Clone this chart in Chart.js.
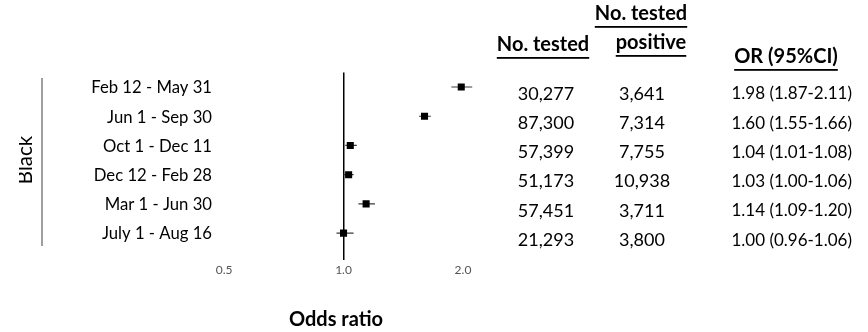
<!DOCTYPE html>
<html>
<head>
<meta charset="utf-8">
<script src="https://cdn.jsdelivr.net/npm/chart.js@4"></script>
<style>
html,body{margin:0;padding:0;background:#fff;}
canvas{display:block;}
</style>
</head>
<body>
<canvas id="c" width="868" height="332"></canvas>
<script>
// ---- data ----
const groupLabel = 'Black';
const periods = ['Feb 12 - May 31','Jun 1 - Sep 30','Oct 1 - Dec 11','Dec 12 - Feb 28','Mar 1 - Jun 30','July 1 - Aug 16'];
const orValues = [1.98, 1.60, 1.04, 1.03, 1.14, 1.00];
const ciLow    = [1.87, 1.55, 1.01, 1.00, 1.09, 0.96];
const ciHigh   = [2.11, 1.66, 1.08, 1.06, 1.20, 1.06];
const nTested   = ['30,277','87,300','57,399','51,173','57,451','21,293'];
const nPositive = ['3,641','7,314','7,755','10,938','3,711','3,800'];
const xTickValues = [0.5, 1, 2];
const xTickLabels = ['0.5','1.0','2.0'];
const xTitle = 'Odds ratio';
const headers = {tested:'No. tested', positiveTop:'No. tested', positiveBottom:'positive', or:'OR (95%CI)'};

const FONT = 'Lato';
const rowIndex = periods.map((_, i) => i + 1);

const whiskerSets = rowIndex.map((r, i) => ({
  type: 'line',
  data: [{x: ciLow[i], y: r}, {x: ciHigh[i], y: r}],
  borderColor: '#3a3a3a',
  borderWidth: 1.2,
  pointRadius: 0,
  order: 2
}));

const tablePlugin = {
  id: 'tablePlugin',
  afterDraw(chart) {
    const ctx = chart.ctx;
    const y = chart.scales.y;
    ctx.save();
    // group label, rotated and clipped
    ctx.save();
    ctx.beginPath();
    ctx.rect(19, 0, 60, 332);
    ctx.clip();
    ctx.translate(32, 160);
    ctx.rotate(-Math.PI / 2);
    ctx.font = `20.5px ${FONT}`;
    ctx.fillStyle = '#000';
    ctx.textAlign = 'center';
    ctx.textBaseline = 'alphabetic';
    ctx.fillText(groupLabel, 0, 0);
    ctx.restore();
    // bracket line
    ctx.strokeStyle = '#7f7f7f';
    ctx.lineWidth = 1.5;
    ctx.beginPath();
    ctx.moveTo(42, 78);
    ctx.lineTo(42, 246);
    ctx.stroke();

    ctx.fillStyle = '#000';
    ctx.textBaseline = 'middle';
    rowIndex.forEach((r, i) => {
      const py = y.getPixelForValue(r);
      ctx.font = `16.7px ${FONT}`;
      ctx.textAlign = 'right';
      ctx.fillText(periods[i], 212, py + 1);
      ctx.font = `18px ${FONT}`;
      ctx.textAlign = 'center';
      ctx.fillText(nTested[i], 546, py + 7);
      ctx.fillText(nPositive[i], 642, py + 7);
      ctx.font = `17px ${FONT}`;
      ctx.textAlign = 'right';
      const orText = `${orValues[i].toFixed(2)} (${ciLow[i].toFixed(2)}-${ciHigh[i].toFixed(2)})`;
      ctx.fillText(orText, 852, py + 7);
    });

    // headers (bold + underline)
    ctx.font = `bold 20px ${FONT}`;
    ctx.textAlign = 'center';
    const hdr = (t, cx, cy) => {
      ctx.fillText(t, cx, cy);
      const w = ctx.measureText(t).width;
      ctx.fillRect(cx - w / 2, cy + 12, w, 1.8);
    };
    hdr(headers.positiveTop, 641, 14);
    hdr(headers.tested, 543, 45);
    hdr(headers.positiveBottom, 651, 43);
    hdr(headers.or, 786, 57);
    ctx.restore();
  }
};

new Chart(document.getElementById('c'), {
  data: {
    datasets: [
      {
        type: 'scatter',
        data: rowIndex.map((r, i) => ({x: orValues[i], y: r})),
        pointStyle: 'rect',
        pointRadius: 5,
        backgroundColor: '#000',
        borderColor: '#000',
        borderWidth: 0,
        order: 0
      },
      ...whiskerSets
    ]
  },
  options: {
    responsive: false,
    animation: false,
    layout: {padding: {left: 196, right: 392, top: 72.4, bottom: 0}},
    plugins: {legend: {display: false}, tooltip: {enabled: false}},
    scales: {
      x: {
        type: 'logarithmic',
        min: 0.4248,
        max: 2.157,
        afterBuildTicks: (s) => { s.ticks = xTickValues.map(v => ({value: v})); },
        afterFit: (s) => { s.height = 72; },
        ticks: {
          autoSkip: false,
          maxRotation: 0,
          padding: 3,
          color: '#555555',
          font: {family: FONT, size: 12},
          callback: (v) => { const k = xTickValues.indexOf(v); return k >= 0 ? xTickLabels[k] : ''; }
        },
        grid: {
          drawTicks: false,
          color: (c) => (c.tick && c.tick.value === 1 ? '#000' : 'rgba(0,0,0,0)'),
          lineWidth: 1.5
        },
        border: {display: false},
        title: {display: true, text: xTitle, color: '#000', font: {family: FONT, size: 20, weight: 'bold'}, padding: {top: 0, bottom: 0}}
      },
      y: {
        type: 'linear',
        display: false,
        reverse: true,
        min: 0.5,
        max: 6.92
      }
    }
  },
  plugins: [tablePlugin]
});
</script>
</body>
</html>
